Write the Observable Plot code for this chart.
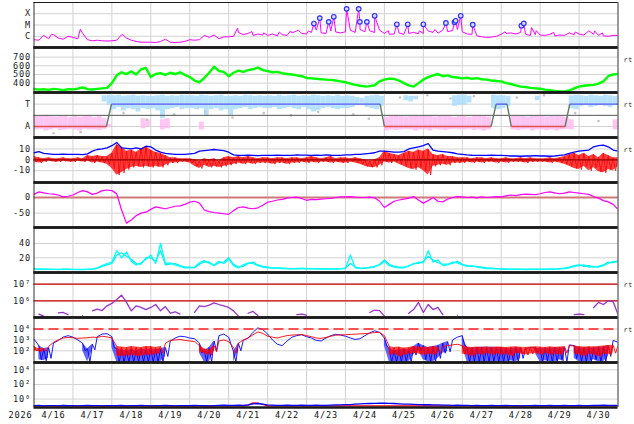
<!DOCTYPE html>
<html><head><meta charset="utf-8">
<script src="https://cdn.jsdelivr.net/npm/d3@7"></script>
<script src="https://cdn.jsdelivr.net/npm/@observablehq/plot@0.6"></script>
<style>
html,body{margin:0;padding:0;background:#fff;}
#chart{position:relative;width:634px;height:424px;overflow:hidden;background:#fff;}
#chart svg{position:absolute;left:0;}
#chart svg text{letter-spacing:0.8px;}
</style></head><body><div id="chart"></div>
<script>
// ---- axis labels ----
const yearLabel = "2026";
const dayLabels = ["4/16","4/17","4/18","4/19","4/20","4/21","4/22","4/23","4/24","4/25","4/26","4/27","4/28","4/29","4/30"];
const dayGrid = [1,2,3,4,5,6,7,8,9,10,11,12,13,14];
const xrayTicks = [1,10,100], xrayTickLabels = ["C","M","X"];
const speedTicks = [400,500,600,700], speedTickLabels = ["400","500","600","700"];
const sectorTicks = [1,-1], sectorTickLabels = ["T","A"];
const bTicks = [10,0,-10], bTickLabels = ["10","0","-10"];
const dstTicks = [0,-50], dstTickLabels = ["0","-50"];
const densTicks = [20,40], densTickLabels = ["20","40"];
const protTicks = [1e6,1e7], protTickLabels = ["10\u2076","10\u2077"];
const elecTicks = [1e2,1e3,1e4], elecTickLabels = ["10\u00b2","10\u00b3","10\u2074"];
const p9Ticks = [1,1e2,1e4], p9TickLabels = ["10\u2070","10\u00b2","10\u2074"];

// ---- data: 3-hourly samples from 4/16 00:00 (121 values) ----
const xray = [ // microW/m^2
0.5,0.45,1.2,0.6,1.4,0.7,0.55,1.0,
0.8,0.6,1.8,0.5,0.4,0.45,0.4,0.38,
0.4,0.45,1.4,0.7,0.45,0.35,0.3,0.3,
0.3,0.28,0.35,0.55,0.3,0.28,0.3,0.35,
0.5,0.45,0.5,1.2,0.8,1.3,0.6,0.9,
0.9,1.0,2.2,1.4,1.8,1.2,1.6,1.3,
1.2,1.6,1.1,1.4,1.2,2.0,3.0,1.8,
1.6,2.2,3.5,2.0,1.8,3.0,2.4,2.0,
2.5,3.5,2.2,4.0,2.5,3.0,2.2,3.5,
1.8,1.5,1.6,2.0,1.5,1.8,2.2,1.7,
1.8,3.0,2.2,1.9,3.5,2.6,3.2,4.0,
2.5,1.6,1.5,1.1,0.9,0.8,0.85,1.0,
1.5,1.8,2.0,1.6,2.2,1.5,1.2,1.4,
1.3,1.2,1.5,1.1,1.3,1.2,2.0,1.4,
1.6,1.3,3.0,1.5,1.2,1.1,1.0,1.2,
1.2];
const spikeT = [0.45,1.19,2.27,5.23,5.6,5.9,6.3,6.59,6.79,7.05,9.1,9.9,10.3,12.1,12.78,12.9,13.35,13.9,14.4,14.6];
const spikeV = [1.5,4.3,1.5,5.3,2.6,2.0,2.4,3.0,3.5,3.0,3.2,3.0,4.0,2.5,6.0,3.2,2.2,2.4,3.0,2.0];
const flareT = [7.19,7.34,7.57,7.70,8.03,8.34,8.37,8.55,8.75,9.32,9.60,10.00,10.58,10.80,10.83,10.96,11.27,12.52,12.58];
const flareV = [13.5,41,19,53,270,270,19,19,65,11.5,11.5,11.5,15,17.5,23.5,65,10.5,8.7,14];

const speed = [
332,325,330,322,334,328,320,330,
328,336,350,330,326,334,340,345,
400,490,525,505,535,500,560,575,
470,505,515,495,520,505,525,495,
470,430,410,460,520,590,540,530,
480,520,545,530,550,560,580,550,
540,525,530,515,505,500,490,480,
460,455,450,445,440,438,430,420,
410,395,380,370,362,365,375,420,
440,452,448,430,400,375,360,400,
440,470,490,505,480,490,470,465,
455,462,450,458,445,440,430,425,
420,400,390,375,360,355,345,340,
335,325,320,310,305,305,315,340,
360,370,375,380,395,420,480,500,
505];

const sectorT = [0,1.86,1.99,8.89,9.0,11.74,11.87,12.15,12.26,13.64,13.76,15];
const sectorV = [-1,-1,1,1,-1,-1,1,1,-1,-1,1,1];
const _ = null;
const lbHi = [
_,_,_,_,_,_,_,_,
_,_,_,_,_,_,1.75,1.8,
1.75,1.8,1.7,1.75,1.8,1.7,1.75,1.7,
1.7,1.75,1.8,1.7,1.75,1.7,1.8,1.75,
1.75,1.7,1.8,1.75,1.7,1.75,1.8,1.7,
1.7,1.75,1.7,1.8,1.75,1.7,1.75,1.7,
1.75,1.7,1.8,1.7,1.75,1.8,1.7,1.75,
1.7,1.8,1.75,1.7,1.75,1.7,1.8,1.7,
1.75,1.7,1.6,1.5,1.7,1.75,1.8,1.7,
_,_,_,_,1.75,1.7,1.7,_,
_,_,_,_,_,_,1.75,1.8,
1.8,1.7,_,_,_,_,1.8,1.75,
1.75,1.7,_,_,_,_,_,1.7,
_,_,_,_,_,_,1.75,1.8,
1.75,1.7,1.8,1.75,1.7,1.8,1.75,1.7,
1.7];
const lbLo = [
_,_,_,_,_,_,_,_,
_,_,_,_,_,_,1.2,0.9,
0.5,0.7,0.4,0.6,0.5,0.3,0.6,0.5,
0.6,0.4,-0.3,0.5,0.6,0.7,0.5,0.6,
0.6,0.5,0.6,-0.1,0.5,0.6,0.4,0.5,
0.0,0.5,0.6,0.7,0.5,0.6,0.7,0.6,
0.6,0.7,0.5,0.6,0.7,0.6,0.5,0.7,
0.5,0.3,0.4,0.6,0.7,0.6,0.5,0.6,
0.6,0.7,0.9,1.0,0.7,0.6,0.5,0.8,
_,_,_,_,1.3,1.2,1.4,_,
_,_,_,_,_,_,0.8,0.9,
0.9,1.1,_,_,_,_,0.6,0.5,
0.6,0.8,_,_,_,_,_,1.3,
_,_,_,_,_,_,0.6,0.5,
0.8,0.9,0.7,0.8,0.9,0.8,0.7,0.9,
0.9];
const pkHi = [
-0.1,-0.05,0,-0.1,-0.15,-0.05,-0.1,-0.2,
-0.1,-0.15,-0.1,-0.05,-0.2,-0.1,-0.3,-0.8,
_,_,_,_,_,_,-0.3,-0.4,
_,_,-0.4,-0.3,_,_,_,_,
_,_,-0.6,_,_,_,_,_,
_,_,_,_,_,_,_,_,
_,_,_,_,_,_,_,_,
_,_,_,_,_,_,_,_,
_,_,_,_,_,_,_,_,
-0.2,-0.1,-0.05,-0.1,-0.15,-0.1,-0.05,-0.1,
-0.1,-0.05,-0.15,-0.1,-0.05,-0.1,-0.2,-0.1,
-0.1,-0.2,-0.1,-0.05,-0.1,-0.15,_,_,
_,_,-0.1,-0.05,-0.1,-0.15,-0.1,-0.05,
-0.1,-0.15,-0.1,-0.05,-0.1,-0.2,-0.4,_,
_,_,_,_,_,_,_,-0.4,
-0.4];
const pkLo = [
-1.3,-1.25,-1.4,-1.3,-1.2,-1.35,-1.3,-1.25,
-1.3,-1.4,-1.25,-1.3,-1.3,-1.35,-1.25,-1.1,
_,_,_,_,_,_,-1.2,-1.0,
_,_,-1.3,-1.2,_,_,_,_,
_,_,-1.3,_,_,_,_,_,
_,_,_,_,_,_,_,_,
_,_,_,_,_,_,_,_,
_,_,_,_,_,_,_,_,
_,_,_,_,_,_,_,_,
-1.4,-1.3,-1.35,-1.3,-1.25,-1.3,-1.4,-1.3,
-1.3,-1.4,-1.25,-1.3,-1.35,-1.3,-1.25,-1.3,
-1.3,-1.25,-1.35,-1.3,-1.4,-1.3,_,_,
_,_,-1.3,-1.35,-1.3,-1.25,-1.4,-1.3,
-1.3,-1.35,-1.3,-1.4,-1.3,-1.25,-1.3,_,
_,_,_,_,_,_,_,-1.3,
-1.3];
const grayT = [0.5,1.2,2.3,2.9,3.6,4.4,5.1,5.9,6.6,7.3,8.2,8.6,9.4,10.1,10.7,11.3,12.4,13.1,13.9,14.5];
const grayU = [-1.6,-1.5,0.2,-0.4,0.1,0.3,-0.2,0.2,0.0,0.3,0.1,-0.3,1.6,1.8,1.5,1.7,1.6,1.8,0.2,-0.5];

const bt = [
6.5,7.5,6,5.5,5,5,5.2,5,
5,5,4.8,5.5,8,9.5,10,11,
13,16,11,10.5,10,11,10,12.5,
12,9,7,6,5.5,5,5,5,
5.5,6,8,8.5,9,9.5,9,8.5,
7,4.5,4,4,4.2,4,3.8,4,
4,4,4.2,4,4,4,4.5,4.3,
4.3,4,4.2,4,4.5,4.2,4,4,
4.5,4.5,5,5,5.5,6,6.5,8,
8,7.5,7,7,7.5,10,11,12,
13,15,9,8,7.5,7,6.5,5.5,
5,4.5,4.2,4,4,4,4.2,4,
4,3.8,3.5,3.5,3.3,3.5,3.5,3.8,
3.5,3.5,3.3,3.5,4,4.5,6,7,
8,8.5,9,12,13,13.5,12,9,
8];
const bzLo = [
-2,-3,-2,-1,-2,-2,-1,-2,
-2,-1,-2,-1,-3,-2,-3,-4,
-8,-14,-12,-9,-7,-6,-7,-6,
-7,-6,-7,-5,-3,-3,-2,-2,
-3,-6,-8,-5,-7,-6,-7,-6,
-5,-4,-3,-4,-3,-4,-3,-3,
-3,-4,-3,-3,-4,-3,-3,-2,
-3,-2,-3,-2,-2,-3,-2,-3,
-3,-2,-3,-4,-6,-7,-7,-5,
-2,-3,-2,-4,-6,-8,-9,-7,
-10,-14,-6,-5,-4,-5,-3,-3,
-3,-2,-3,-2,-3,-2,-2,-3,
-2,-3,-2,-2,-2,-3,-2,-2,
-2,-2,-3,-2,-3,-4,-6,-8,
-9,-6,-10,-7,-11,-12,-9,-10,
-6];
const bzHi = [
3,2,1,2,1,1,2,1,
1,2,1,4,3,4,3,3,
6,14,12,8,9,7,10,12,
9,7,6,4,2,2,1,1,
1,0,-1,1,0,1,-1,2,
3,2,3,2,3,2,1,2,
2,1,2,2,1,2,2,1,
2,3,2,1,2,3,1,2,
2,1,2,1,0,-1,0,2,
8,6,5,4,6,8,7,9,
8,10,5,4,5,3,3,2,
2,2,1,2,2,1,2,1,
1,2,1,1,2,1,2,1,
1,1,2,1,2,3,5,6,
4,6,3,5,2,6,4,2,
2];

const dst = [
10,18,15,12,11,8,2,4,
8,16,22,18,10,14,22,24,
22,12,-40,-82,-72,-58,-50,-47,
-38,-30,-33,-36,-32,-28,-27,-22,
-15,-12,-18,-40,-45,-48,-50,-52,
-54,-42,-32,-30,-34,-36,-33,-25,
-15,-12,-8,-6,-2,0,1,-3,
-9,-6,-7,-5,-4,-3,0,2,
2,3,1,0,0,1,-1,-12,
-32,-22,-12,-8,-5,-2,3,-8,
-18,-10,0,-12,-14,-5,0,3,
2,0,1,-1,2,0,1,3,
2,5,8,6,9,11,10,9,
12,16,18,15,12,14,18,16,
14,12,10,3,-2,-10,-14,-22,
-38];

const dens1 = [
4.5,4,4,3.8,4,3.5,4,3.8,
3.8,3.5,3.7,4,4.5,6,9,12,
14,30,20,28,15,10,13,18,
24,12,40,12,13,10,8,6,
6,7,13,16,12,10,15,12,
18,9,6,10,13,12,9,7,
6,6,5.5,5,5,4.5,5,5,
5,4.5,4.8,4.5,4.2,4.5,4.6,4.4,
5,24,6,5,6,6,8,10,
15,9,7,6,6,9,11,14,
13,30,14,17,9,10,14,13,
10,8,9,7,6,5,5,4.5,
4.5,4,4,3.8,4,3.6,3.8,4,
4,3.8,4,4.2,4.5,5,6,8,
9,10,7,8,7,9,12,15,
14];
const dens2 = [
4,4.2,3.8,4,3.6,3.8,3.7,4,
3.6,3.8,3.5,3.8,4.2,5,8,10,
12,24,27,22,18,12,11,20,
20,15,30,10,11,12,9,7,
7,6,11,14,14,9,13,14,
20,11,7,8,12,14,10,8,
7,5.5,6,5.5,4.8,5,4.6,5.2,
4.6,5,4.4,4.8,4.6,4.2,4.4,4.8,
5.5,12,7,5.5,5,7,7,11,
17,11,8,7,7,8,12,12,
15,22,17,13,11,11,12,15,
11,9,8,8,7,6,5.5,5,
4.2,4.4,3.8,4,3.8,3.8,4,3.8,
3.8,4,4.2,4,4.8,5.5,7,9,
10,8,9,7,8,10,14,13,
16];

const proton = [
_,1.6e5,1.2e5,_,_,1.9e5,2e5,1.5e5,
_,_,1.3e5,_,2.5e5,3.2e5,2.6e5,5e5,
7e5,1.2e6,2.2e6,8e5,2.5e5,5e5,4e5,3e5,
4e5,6e5,2.5e5,4.5e5,1.8e5,2.2e5,1.6e5,_,
_,2e5,5e5,4.5e5,5.5e5,7.5e5,6e5,5e5,
4e5,2.5e5,1.2e5,_,1.8e5,2.3e5,1.3e5,_,
_,_,_,_,_,_,1.5e5,1.6e5,
1.4e5,_,_,_,_,_,_,_,
_,_,_,_,_,2e5,2.8e5,2.6e5,
1.2e5,_,_,_,_,1.8e5,3e5,8e5,
2e5,6e5,3e5,4e5,1.5e5,_,_,1.4e5,
_,_,_,_,_,_,_,_,
_,_,_,_,_,_,_,_,
_,_,_,_,_,_,_,1.5e5,
1.6e5,1.5e5,_,4e5,8e5,6e5,1e6,9e5,
1.5e5];

const eBlue = [
1200,300,150,200,500,900,1800,2500,
1800,1000,500,150,400,2000,3500,3800,
2000,150,120,100,130,100,150,120,
150,120,150,200,800,1500,2200,2000,
1500,1300,500,100,200,800,2500,3500,
1800,80,500,900,1500,5000,13000,9000,
3500,1000,400,300,800,1800,2500,3000,
2000,1500,900,800,1500,2500,3300,2800,
2200,1500,1100,1300,2500,4500,7000,5000,
1500,150,100,120,150,120,250,500,
300,200,250,300,500,700,1000,1800,
2500,200,180,200,220,200,220,200,
200,180,150,200,180,160,200,180,
150,180,160,200,180,200,350,300,
200,180,200,180,200,220,300,900,
600];
const eBlueLo = [
_,15,12,20,_,_,_,_,
_,_,100,9,120,_,_,_,
200,9,9,9,9,9,9,9,
9,9,9,30,_,_,_,_,
_,_,60,9,9,100,_,_,
_,9,100,_,_,_,_,_,
_,_,_,_,_,_,_,_,
_,_,_,_,_,_,_,_,
_,_,_,_,_,_,_,_,
300,9,9,9,9,9,40,100,
15,9,9,20,60,80,_,_,
300,9,9,9,9,9,9,9,
9,9,12,9,20,_,_,60,
9,12,9,9,15,9,_,20,
9,9,9,15,9,9,30,_,
_];
const eRed = [
250,150,180,250,600,1000,1500,1700,
1600,1400,1500,1600,1800,1700,2200,1900,
1500,250,220,200,250,220,200,250,
250,200,250,500,900,1000,1100,900,
800,700,300,150,120,300,800,1000,
700,200,500,1000,1500,3000,5500,4000,
2200,1800,1500,2000,2500,2800,3000,3200,
2500,2000,1500,1400,1700,2200,2700,3000,
3000,3200,3400,3600,3800,4200,4800,5000,
2500,250,200,220,180,200,250,220,
220,200,250,220,250,300,350,400,
300,220,200,220,200,230,200,220,
220,200,220,230,210,200,220,230,
220,200,230,210,220,250,300,280,
250,220,240,230,250,280,300,320,
300];
const eRedLo = [
100,80,90,_,_,_,_,_,
_,_,_,_,_,_,_,_,
_,35,30,35,40,30,35,40,
40,50,60,_,_,_,_,_,
_,_,80,50,40,80,_,_,
_,60,_,_,_,_,_,_,
_,_,_,_,_,_,_,_,
_,_,_,_,_,_,_,_,
_,_,_,_,_,_,_,_,
_,40,50,30,40,50,60,50,
40,50,40,60,_,_,_,_,
50,40,30,50,40,60,40,50,
40,50,30,60,50,40,50,60,
40,60,40,50,40,60,_,50,
40,30,50,40,30,50,40,60,
_];

const p9Blue = [
0.13,0.14,0.12,0.13,0.13,0.12,0.14,0.13,
0.13,0.12,0.13,0.14,0.13,0.13,0.12,0.13,
0.13,0.13,0.14,0.12,0.13,0.13,0.14,0.13,
0.12,0.13,0.13,0.14,0.13,0.12,0.13,0.13,
0.13,0.14,0.13,0.13,0.12,0.13,0.14,0.15,
0.14,0.14,0.15,0.14,0.16,0.22,0.25,0.2,
0.16,0.15,0.14,0.14,0.15,0.14,0.14,0.15,
0.14,0.14,0.15,0.14,0.14,0.15,0.16,0.16,
0.17,0.18,0.2,0.22,0.24,0.25,0.26,0.27,
0.28,0.26,0.25,0.22,0.2,0.2,0.19,0.18,
0.17,0.17,0.16,0.16,0.15,0.15,0.14,0.15,
0.14,0.14,0.13,0.14,0.13,0.13,0.14,0.13,
0.13,0.14,0.13,0.13,0.12,0.13,0.13,0.14,
0.13,0.13,0.14,0.13,0.13,0.14,0.13,0.13,
0.14,0.13,0.13,0.14,0.14,0.15,0.14,0.14,
0.14];
const p9Red = [
0.12,0.12,0.12,0.12,0.12,0.12,0.12,0.12,
0.12,0.12,0.12,0.12,0.12,0.12,0.12,0.12,
0.12,0.12,0.12,0.12,0.12,0.12,0.12,0.12,
0.12,0.12,0.12,0.12,0.12,0.12,0.12,0.12,
0.12,0.12,0.12,0.12,0.12,0.12,0.12,0.12,
0.12,0.12,0.12,0.12,0.15,0.3,0.28,0.18,
0.12,0.12,0.12,0.12,0.12,0.12,0.12,0.12,
0.12,0.12,0.12,0.12,0.12,0.12,0.12,0.12,
0.12,0.12,0.12,0.12,0.12,0.12,0.12,0.12,
0.12,0.12,0.12,0.12,0.12,0.12,0.12,0.12,
0.12,0.12,0.12,0.12,0.12,0.12,0.12,0.12,
0.12,0.12,0.12,0.12,0.12,0.12,0.12,0.12,
0.12,0.12,0.12,0.12,0.12,0.12,0.12,0.12,
0.12,0.12,0.12,0.12,0.12,0.12,0.12,0.12,
0.12,0.12,0.12,0.12,0.12,0.12,0.12,0.12,
0.12];

// ---- builders ----
const S = arr => arr.map((v, i) => ({t: i / 8, v}));
const band = (lo, hi) => lo.map((l, i) => ({t: i / 8, lo: l, hi: hi[i]}));
function zig(hi, lo) {
  const out = [];
  hi.forEach((h, i) => {
    const t = i / 8;
    if (h != null) out.push({t, v: h});
    if (lo[i] != null) out.push({t: t + 1 / 16, v: lo[i]});
  });
  return out;
}
const xrayData = S(xray)
  .concat(spikeT.map((t, i) => ({t, v: spikeV[i]})))
  .concat(flareT.map((t, i) => ({t, v: flareV[i]})))
  .sort((a, b) => a.t - b.t);
const flares = flareT.map((t, i) => ({t, v: flareV[i]}));
const sectorLinks = sectorT.slice(1).map((t, i) => ({
  x1: sectorT[i], x2: t, y1: sectorV[i], y2: sectorV[i + 1],
  c: sectorV[i] !== sectorV[i + 1] ? "#5c7a62" : (sectorV[i] > 0 ? "#5a5cf0" : "#e25050")
}));
const rects = (lo, hi) => band(lo, hi).filter(d => d.lo != null && d.hi != null);

const FONT = "DejaVu Sans Mono";
const FS = 8.6;
const chart = document.getElementById("chart");

function panel(k, o) {
  const last = !!o.last;
  const [y0, y1] = o.y.domain;
  const svg = Plot.plot({
    width: 634, height: 51 + (last ? 17 : 0),
    marginLeft: 33.5, marginRight: 16.5, marginTop: 3, marginBottom: last ? 20 : 3,
    x: {domain: [0, 15], axis: null},
    y: {...o.y, axis: null},
    style: {fontFamily: FONT, fontSize: FS + "px", background: "transparent", overflow: "visible"},
    marks: [
      Plot.ruleX(dayGrid, {stroke: "#d2d2d2", strokeWidth: 1}),
      Plot.ruleY(o.ticks, {stroke: "#d2d2d2", strokeWidth: 1}),
      ...o.marks,
      Plot.ruleX([0, 15], {stroke: "#333", strokeWidth: 1}),
      Plot.ruleY([y1], {stroke: "#1a1a1a", strokeWidth: k === 0 ? 1.2 : 2.6}),
      Plot.ruleY([y0], {stroke: "#1a1a1a", strokeWidth: 2.6}),
      Plot.text(o.ticks, {y: d => d, frameAnchor: "left", textAnchor: "end", dx: -3, text: (d, i) => o.labels[i], fill: "#1a1a1a", fontSize: FS}),
      o.rt ? Plot.text(["rt"], {frameAnchor: "top-right", textAnchor: "start", dx: 5.5, dy: 10, text: d => d, fontSize: 6.5, fill: "#222"}) : null,
      last ? Plot.text(dayLabels, {x: (d, i) => i + 0.5, frameAnchor: "bottom", dy: 10, text: d => d, fontSize: FS, fill: "#111"}) : null,
      last ? Plot.text([yearLabel], {frameAnchor: "bottom-left", textAnchor: "end", dx: -1.5, dy: 10, text: d => d, fontSize: FS, fill: "#111"}) : null
    ]
  });
  svg.style.top = (45 * k - 1.3) + "px";
  chart.appendChild(svg);
}

panel(0, {y: {type: "log", domain: [0.102, 980]}, ticks: xrayTicks, labels: xrayTickLabels, marks: [
  Plot.line(xrayData, {x: "t", y: "v", stroke: "#ff00ff", strokeWidth: 1, clip: true}),
  Plot.dot(flares, {x: "t", y: "v", r: 2.3, stroke: "#3030ff", fill: "#dcdcff", strokeWidth: 1.2})
]});

panel(1, {y: {domain: [292, 811]}, ticks: speedTicks, labels: speedTickLabels, rt: true, marks: [
  Plot.line(S(speed), {x: "t", y: "v", stroke: "#00ff00", strokeWidth: 2.4, clip: true})
]});

panel(2, {y: {domain: [-1.98, 2.04]}, ticks: sectorTicks, labels: sectorTickLabels, rt: true, marks: [
  Plot.rect(rects(lbLo, lbHi), {x1: "t", x2: d => d.t + 0.125, y1: "lo", y2: "hi", fill: "#a9dcff", fillOpacity: 0.85, clip: true}),
  Plot.rect(rects(pkLo, pkHi), {x1: "t", x2: d => d.t + 0.125, y1: "lo", y2: "hi", fill: "#ffb2ef", fillOpacity: 0.75, clip: true}),
  Plot.dot(grayT.map((t, i) => ({t, u: grayU[i]})), {x: "t", y: "u", r: 1.3, fill: "#c4c4c4"}),
  Plot.ruleY([0], {stroke: "#555", strokeWidth: 1}),
  Plot.link(sectorLinks, {x1: "x1", x2: "x2", y1: "y1", y2: "y2", stroke: "c", strokeWidth: 1.4})
]});

panel(3, {y: {domain: [-20.9, 20.55]}, ticks: bTicks, labels: bTickLabels, rt: true, marks: [
  Plot.areaY(band(bzLo, bzHi), {x: "t", y1: "lo", y2: "hi", fill: "#ff0000", fillOpacity: 0.75, clip: true}),
  Plot.line(zig(bzHi, bzLo), {x: "t", y: "v", stroke: "#ff0000", strokeWidth: 0.8, clip: true}),
  Plot.ruleY([0], {stroke: "#990000", strokeWidth: 1.2}),
  Plot.line(S(bt), {x: "t", y: "v", stroke: "#0000ff", strokeWidth: 1.3, clip: true})
]});

panel(4, {y: {domain: [-96, 48]}, ticks: dstTicks, labels: dstTickLabels, marks: [
  Plot.ruleY([0], {stroke: "#d07878", strokeWidth: 2}),
  Plot.line(S(dst), {x: "t", y: "v", stroke: "#ff00ff", strokeWidth: 1.2, clip: true})
]});

panel(5, {y: {domain: [-0.6, 62.4]}, ticks: densTicks, labels: densTickLabels, marks: [
  Plot.line(S(dens2), {x: "t", y: "v", stroke: "#00eeee", strokeWidth: 1.2, clip: true}),
  Plot.line(S(dens1), {x: "t", y: "v", stroke: "#00ffff", strokeWidth: 1.3, clip: true})
]});

panel(6, {y: {type: "log", domain: [1e5, 4.95e7]}, ticks: protTicks, labels: protTickLabels, rt: true, marks: [
  Plot.ruleY(protTicks, {stroke: "#cc0000", strokeWidth: 1.3}),
  Plot.line(S(proton), {x: "t", y: "v", stroke: "#9933cc", strokeWidth: 1.3, clip: true})
]});

panel(7, {y: {type: "log", domain: [8.3, 1.17e5]}, ticks: elecTicks, labels: elecTickLabels, rt: true, marks: [
  Plot.areaY(band(eBlueLo, eBlue), {x: "t", y1: "lo", y2: "hi", fill: "#0000ff", fillOpacity: 0.6, clip: true}),
  Plot.line(zig(eBlue, eBlueLo), {x: "t", y: "v", stroke: "#0000ff", strokeWidth: 0.9, clip: true}),
  Plot.areaY(band(eRedLo, eRed), {x: "t", y1: "lo", y2: "hi", fill: "#ff0000", fillOpacity: 0.7, clip: true}),
  Plot.line(zig(eRed, eRedLo), {x: "t", y: "v", stroke: "#ff0000", strokeWidth: 0.9, clip: true}),
  Plot.ruleY([1e4], {stroke: "#ff2020", strokeWidth: 1.5, strokeDasharray: "10,5"})
]});

panel(8, {y: {type: "log", domain: [0.071, 1e5]}, ticks: p9Ticks, labels: p9TickLabels, last: true, marks: [
  Plot.line(S(p9Red), {x: "t", y: "v", stroke: "#ff0000", strokeWidth: 1.2, clip: true}),
  Plot.line(S(p9Blue), {x: "t", y: "v", stroke: "#0000ff", strokeWidth: 1.3, clip: true})
]});
</script></body></html>
